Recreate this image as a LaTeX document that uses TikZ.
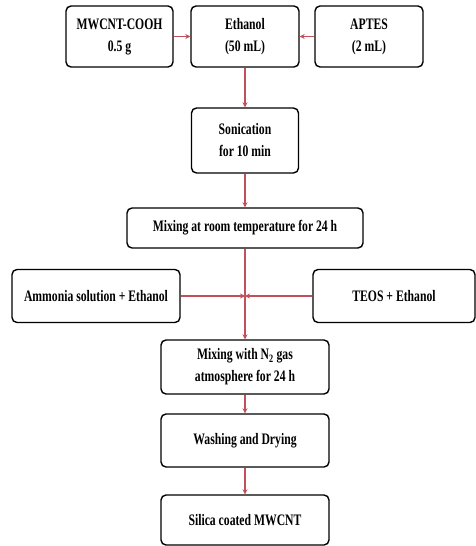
\documentclass[tikz,border=0pt]{standalone}
\usepackage{fontspec}
\setmainfont{Liberation Serif}[FakeStretch=0.73]
\usepackage{tikz}
\usetikzlibrary{arrows.meta}

\definecolor{linkred}{RGB}{192,80,90}

\begin{document}
\begin{tikzpicture}[x=1pt, y=1pt,
  stepbox/.style = {draw, line width=1.4pt, rounded corners=5pt, align=center,
                    font=\bfseries\fontsize{16}{22}\selectfont, inner sep=0pt},
  link/.style = {linkred, line width=1.2pt, -{Stealth[length=5pt, width=5pt]}}]
\useasboundingbox (0,0) rectangle (476,-546);
% top row
\node[stepbox, minimum width=107, minimum height=61] (mwcnt) at (119.5,-36.5) {MWCNT-COOH\\0.5 g};
\node[stepbox, minimum width=108, minimum height=61] (ethanol) at (245,-36.5) {Ethanol\\(50 mL)};
\node[stepbox, minimum width=108, minimum height=61] (aptes) at (369,-36.5) {APTES\\(2 mL)};
% middle column
\node[stepbox, minimum width=107, minimum height=65] (sonic) at (245,-140.5) {Sonication\\for 10 min};
\node[stepbox, minimum width=236, minimum height=40] (mixroom) at (245,-228) {Mixing at room temperature for 24 h};
\node[stepbox, minimum width=168, minimum height=53] (ammonia) at (96,-296) {Ammonia solution + Ethanol};
\node[stepbox, minimum width=162, minimum height=53] (teos) at (394,-296) {TEOS + Ethanol};
\coordinate (meet) at (245,-296);
\node[stepbox, minimum width=168, minimum height=54] (mixn2) at (245,-367) {Mixing with N\textsubscript{2} gas\\atmosphere for 24 h};
\node[stepbox, minimum width=168, minimum height=53] (wash) at (245,-440.5) {Washing and Drying};
\node[stepbox, minimum width=168, minimum height=50] (silica) at (245,-520) {Silica coated MWCNT};
% arrows
\draw[link] (mwcnt) -- (ethanol);
\draw[link] (aptes) -- (ethanol);
\draw[link] (ethanol) -- (sonic);
\draw[link] (sonic) -- (mixroom);
\draw[link] (mixroom) -- (mixn2);
\draw[link] (ammonia) -- (meet);
\draw[link] (teos) -- (meet);
\draw[link] (mixn2) -- (wash);
\draw[link] (wash) -- (silica);
\end{tikzpicture}
\end{document}
